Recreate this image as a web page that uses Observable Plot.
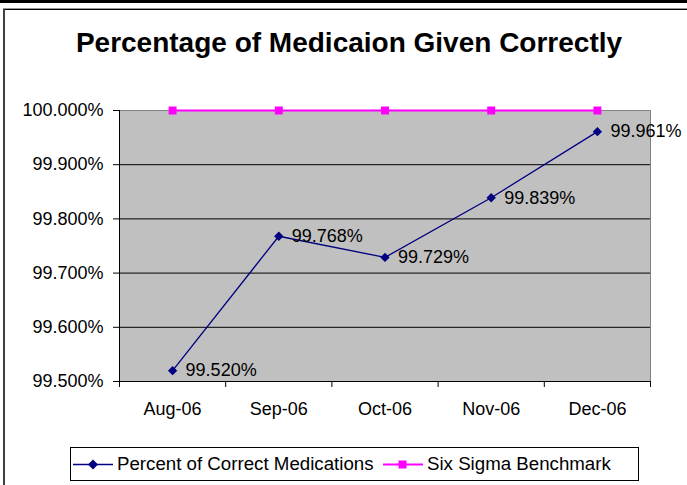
<!DOCTYPE html>
<html>
<head>
<meta charset="utf-8">
<script src="https://cdn.jsdelivr.net/npm/d3@7"></script>
<script src="https://cdn.jsdelivr.net/npm/@observablehq/plot@0.6"></script>
<style>
  html, body { margin: 0; padding: 0; background: #fff; }
  #wrap { position: relative; width: 687px; height: 485px; overflow: hidden; font-family: "Liberation Sans", Arial, sans-serif; color: #000; }
  #topband { position: absolute; left: 0; top: 0; width: 687px; height: 3px; background: #000; }
  #frameTop1 { position: absolute; left: 3px; top: 8px; width: 684px; height: 1px; background: #999; }
  #frameTop2 { position: absolute; left: 3px; top: 9px; width: 684px; height: 1px; background: #000; }
  #frameLeft { position: absolute; left: 3px; top: 9px; width: 2px; height: 476px; background: #404040; }
  #title { position: absolute; left: 0; top: 26px; width: 698px; text-align: center; font-weight: bold; font-size: 28px; line-height: 34px; white-space: nowrap; }
  #chart { position: absolute; left: 0; top: 0; }
  #legend { position: absolute; left: 70px; top: 447px; width: 569px; height: 34px; border: 1px solid #000; box-sizing: border-box; background: #fff; }
  #legend .item { position: absolute; top: 0; height: 32px; display: flex; align-items: center; font-size: 18.7px; white-space: nowrap; }
  #legend svg { display: block; margin-right: 4px; }
</style>
</head>
<body>
<div id="wrap">
  <div id="topband"></div>
  <div id="frameTop1"></div>
  <div id="frameTop2"></div>
  <div id="frameLeft"></div>
  <div id="chart"></div>
  <div id="title">Percentage of Medicaion Given Correctly</div>
  <div id="legend"></div>
</div>
<script>
const months = ["Aug-06", "Sep-06", "Oct-06", "Nov-06", "Dec-06"];
const correct = [99.520, 99.768, 99.729, 99.839, 99.961];
const benchmark = [100, 100, 100, 100, 100];
const yTicks = [99.5, 99.6, 99.7, 99.8, 99.9, 100.0];
const gridTicks = [99.6, 99.7, 99.8, 99.9];
const seriesNames = ["Percent of Correct Medications", "Six Sigma Benchmark"];
const seriesColors = ["#000080", "#FF00FF"];

const data = months.map((m, i) => ({ m, pos: i + 0.5, c: correct[i], b: benchmark[i] }));
const edges = d3.range(months.length + 1);
const centers = months.map((m, i) => i + 0.5);

const chart = Plot.plot({
  width: 687,
  height: 485,
  marginLeft: 119,
  marginRight: 37,
  marginTop: 110,
  marginBottom: 104,
  style: { fontFamily: "'Liberation Sans', Arial, sans-serif", fontSize: "18px", background: "transparent", color: "#000", overflow: "visible" },
  x: { type: "linear", domain: [0, months.length], axis: null, label: null },
  y: { domain: [99.5, 100], axis: null, label: null },
  marks: [
    Plot.frame({ fill: "#C0C0C0", stroke: "#808080" }),
    Plot.ruleY(gridTicks, { stroke: "#000", strokeWidth: 1 }),
    Plot.ruleX([0], { stroke: "#000" }),
    Plot.ruleY([99.5], { stroke: "#000" }),
    Plot.axisY(yTicks, { tickSize: 6, tickPadding: 10, tickFormat: d => d.toFixed(3) + "%", fontSize: 18, stroke: "#000", color: "#000", label: null }),
    Plot.axisX(edges, { tickSize: 6, tickFormat: () => "", stroke: "#000", label: null }),
    Plot.axisX(centers, { tickSize: 0, tickPadding: 21, tickFormat: d => months[Math.round(d - 0.5)], fontSize: 18, label: null }),
    Plot.line(data, { x: "pos", y: "b", stroke: seriesColors[1], strokeWidth: 2 }),
    Plot.dot(data, { x: "pos", y: "b", symbol: "square", r: 4.5, fill: seriesColors[1], stroke: "none" }),
    Plot.line(data, { x: "pos", y: "c", stroke: seriesColors[0], strokeWidth: 1.3 }),
    Plot.dot(data, { x: "pos", y: "c", symbol: "diamond2", r: 4.2, fill: seriesColors[0], stroke: "none" }),
    Plot.text(data, { x: "pos", y: "c", text: d => d.c.toFixed(3) + "%", textAnchor: "start", dx: 13, fontSize: 18, fill: "#000" })
  ]
});
document.getElementById("chart").appendChild(chart);

// Legend
const legend = document.getElementById("legend");
const legendItems = [
  { name: seriesNames[0], color: seriesColors[0], shape: "diamond", left: 2 },
  { name: seriesNames[1], color: seriesColors[1], shape: "square", left: 312 }
];
legendItems.forEach(it => {
  const div = document.createElement("div");
  div.className = "item";
  div.style.left = it.left + "px";
  const marker = it.shape === "diamond"
    ? `<path d="M20,11.5 L25,16.5 L20,21.5 L15,16.5 Z" fill="${it.color}"/>`
    : `<rect x="15.5" y="12.5" width="8" height="8" fill="${it.color}"/>`;
  div.innerHTML = `<svg width="40" height="32"><line x1="0" x2="40" y1="16.5" y2="16.5" stroke="${it.color}" stroke-width="${it.shape === 'diamond' ? 1.3 : 2}"/>${marker}</svg><span>${it.name}</span>`;
  legend.appendChild(div);
});
</script>
</body>
</html>
